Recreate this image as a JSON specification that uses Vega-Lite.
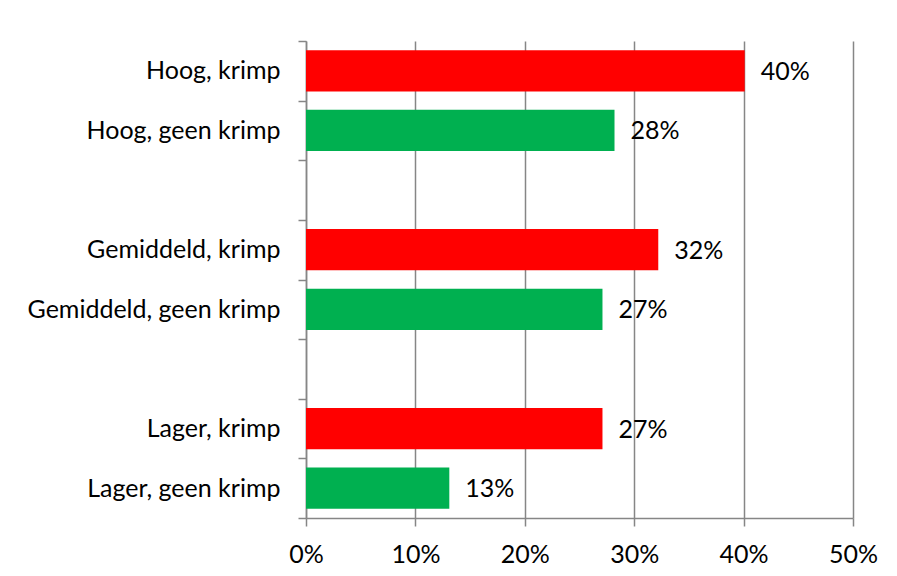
{
  "$schema": "https://vega.github.io/schema/vega-lite/v6.json",
  "width": 547,
  "height": 477,
  "autosize": "none",
  "padding": {"left": 306, "top": 41, "right": 44, "bottom": 58},
  "background": "white",
  "data": {
    "values": [
      {"categorie": "Hoog, krimp", "groep": "krimp", "aandeel": 0.401},
      {"categorie": "Hoog, geen krimp", "groep": "geen krimp", "aandeel": 0.282},
      {"categorie": "Gemiddeld, krimp", "groep": "krimp", "aandeel": 0.322},
      {"categorie": "Gemiddeld, geen krimp", "groep": "geen krimp", "aandeel": 0.271},
      {"categorie": "Lager, krimp", "groep": "krimp", "aandeel": 0.271},
      {"categorie": "Lager, geen krimp", "groep": "geen krimp", "aandeel": 0.131}
    ]
  },
  "encoding": {
    "y": {
      "field": "categorie",
      "type": "nominal",
      "sort": null,
      "scale": {
        "domain": ["Hoog, krimp", "Hoog, geen krimp", " ", "Gemiddeld, krimp", "Gemiddeld, geen krimp", "  ", "Lager, krimp", "Lager, geen krimp"],
        "paddingInner": 0,
        "paddingOuter": 0
      },
      "axis": {
        "title": null,
        "tickBand": "extent",
        "tickSize": 8,
        "labelPadding": 18,
        "labelLimit": 400,
        "domainColor": "#868686",
        "tickColor": "#868686",
        "domainWidth": 1.5,
        "tickWidth": 1.5,
        "grid": false
      }
    },
    "x": {
      "field": "aandeel",
      "type": "quantitative",
      "scale": {"domain": [0, 0.5], "nice": false},
      "axis": {
        "title": null,
        "format": ".0%",
        "values": [0, 0.1, 0.2, 0.3, 0.4, 0.5],
        "labelFlush": false,
        "labelOverlap": false,
        "tickSize": 8,
        "labelPadding": 16,
        "domainColor": "#868686",
        "tickColor": "#868686",
        "gridColor": "#868686",
        "domainWidth": 1.5,
        "tickWidth": 1.5,
        "gridWidth": 1.5,
        "grid": true
      }
    }
  },
  "layer": [
    {
      "mark": {"type": "bar", "height": {"band": 0.69}},
      "encoding": {
        "color": {
          "field": "groep",
          "type": "nominal",
          "scale": {"domain": ["krimp", "geen krimp"], "range": ["#FF0000", "#00B050"]},
          "legend": null
        }
      }
    },
    {
      "mark": {"type": "text", "align": "left", "baseline": "middle", "dx": 16, "dy": 1, "font": "Lato", "fontSize": 25, "color": "black"},
      "encoding": {
        "text": {"field": "aandeel", "type": "quantitative", "format": ".0%"}
      }
    }
  ],
  "config": {
    "view": {"stroke": null},
    "axis": {
      "labelFont": "Lato",
      "labelFontSize": 25,
      "labelColor": "black",
      "labelFontWeight": "normal"
    }
  }
}
